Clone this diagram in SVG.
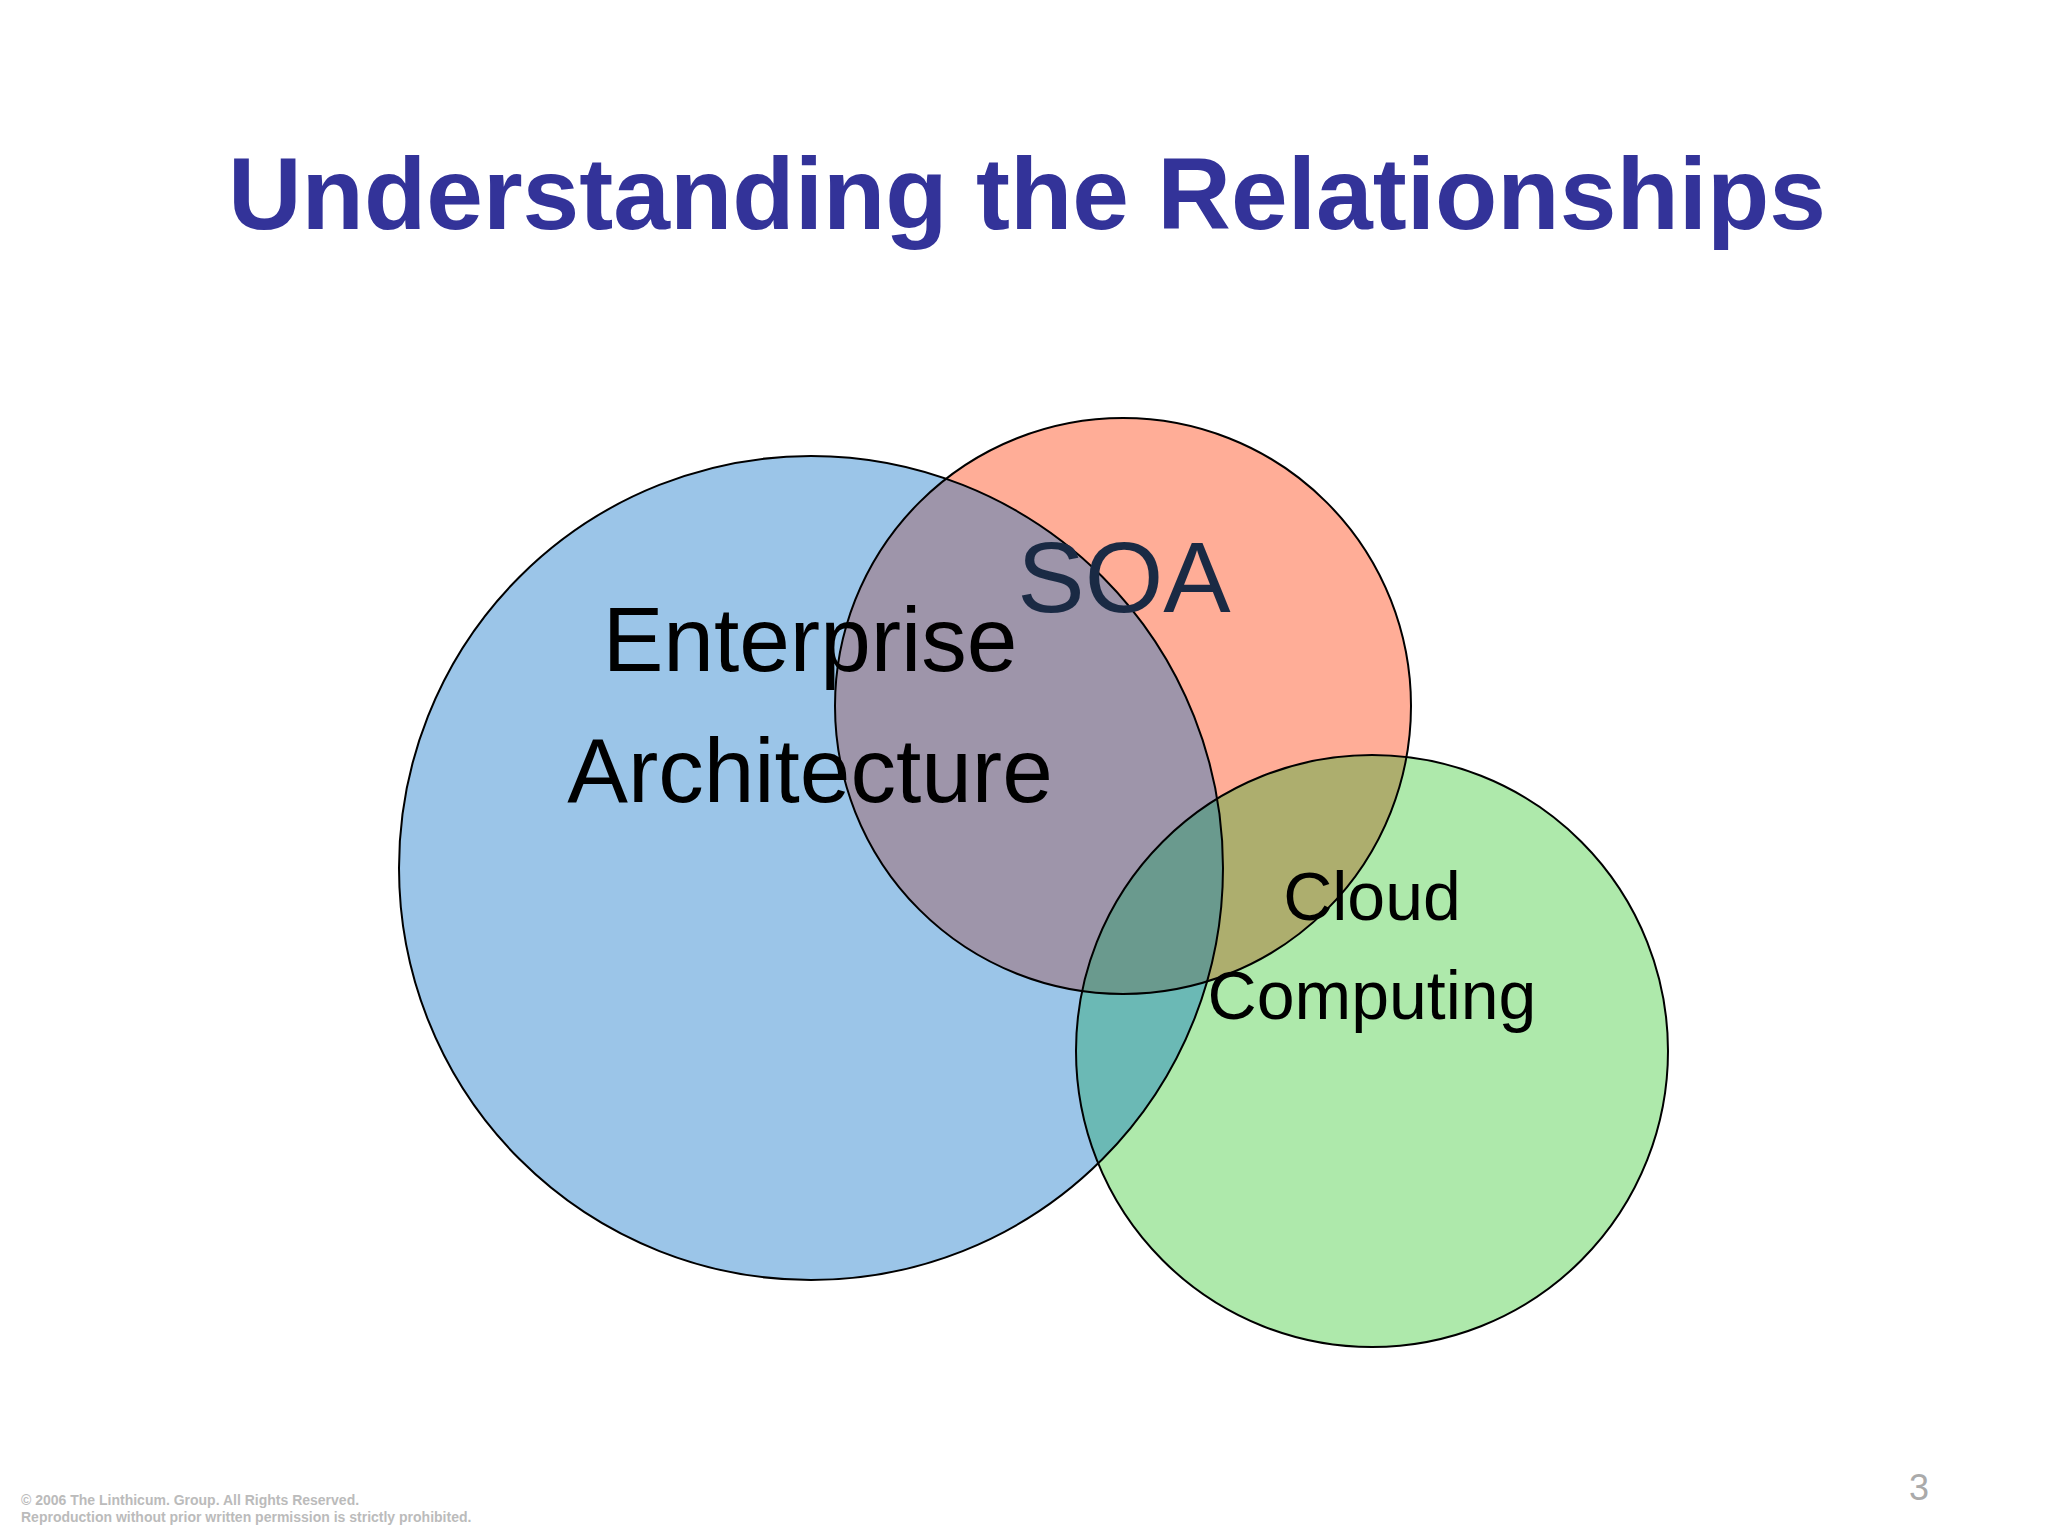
<svg xmlns="http://www.w3.org/2000/svg" width="2048" height="1536" viewBox="0 0 2048 1536">
<defs>
<clipPath id="cb"><circle cx="811" cy="868" r="412"/></clipPath>
<clipPath id="cr"><circle cx="1123" cy="706" r="288"/></clipPath>
<clipPath id="cg"><circle cx="1372" cy="1051" r="296"/></clipPath>
</defs>
<style>
.o{fill:none;stroke:#000;stroke-width:2}
.t{font-family:"Liberation Sans",Arial,sans-serif;text-anchor:middle}
</style>
<rect width="2048" height="1536" fill="#fff"/>
<text class="t" x="1027" y="229" font-size="102" font-weight="bold" fill="#333399">Understanding the Relationships</text>
<g id="venn">
<circle cx="811" cy="868" r="412" fill="#9BC5E8"/>
<circle cx="1123" cy="706" r="288" fill="#FFAD97"/>
<circle cx="1372" cy="1051" r="296" fill="#AEE9AB"/>
<g clip-path="url(#cb)"><circle cx="1123" cy="706" r="288" fill="#9E95AA"/><circle cx="1372" cy="1051" r="296" fill="#6BB9B5"/></g>
<g clip-path="url(#cr)"><circle cx="1372" cy="1051" r="296" fill="#ADAE6E"/></g>
<g clip-path="url(#cb)"><g clip-path="url(#cr)"><circle cx="1372" cy="1051" r="296" fill="#6A9A8E"/></g></g>
</g>
<g id="ea"><circle class="o" cx="811" cy="868" r="412"/>
<text class="t" x="810" y="671" font-size="91">Enterprise</text>
<text class="t" x="810" y="802" font-size="91">Architecture</text></g>
<g id="soa"><circle class="o" cx="1123" cy="706" r="288"/>
<text class="t" x="1124" y="612" font-size="101" fill="#1a2a44">SOA</text></g>
<g id="cloud"><circle class="o" cx="1372" cy="1051" r="296"/>
<text class="t" x="1372" y="920" font-size="68">Cloud</text>
<text class="t" x="1372" y="1019" font-size="68">Computing</text></g>
<text class="t" x="1919" y="1500" font-size="36" fill="#aaa">3</text>
<text x="21" y="1505" font-family="Liberation Sans,Arial,sans-serif" font-size="14" font-weight="bold" fill="#bbb">© 2006 The Linthicum. Group. All Rights Reserved.</text>
<text x="21" y="1522" font-family="Liberation Sans,Arial,sans-serif" font-size="14" font-weight="bold" fill="#bbb">Reproduction without prior written permission is strictly prohibited.</text>
</svg>
